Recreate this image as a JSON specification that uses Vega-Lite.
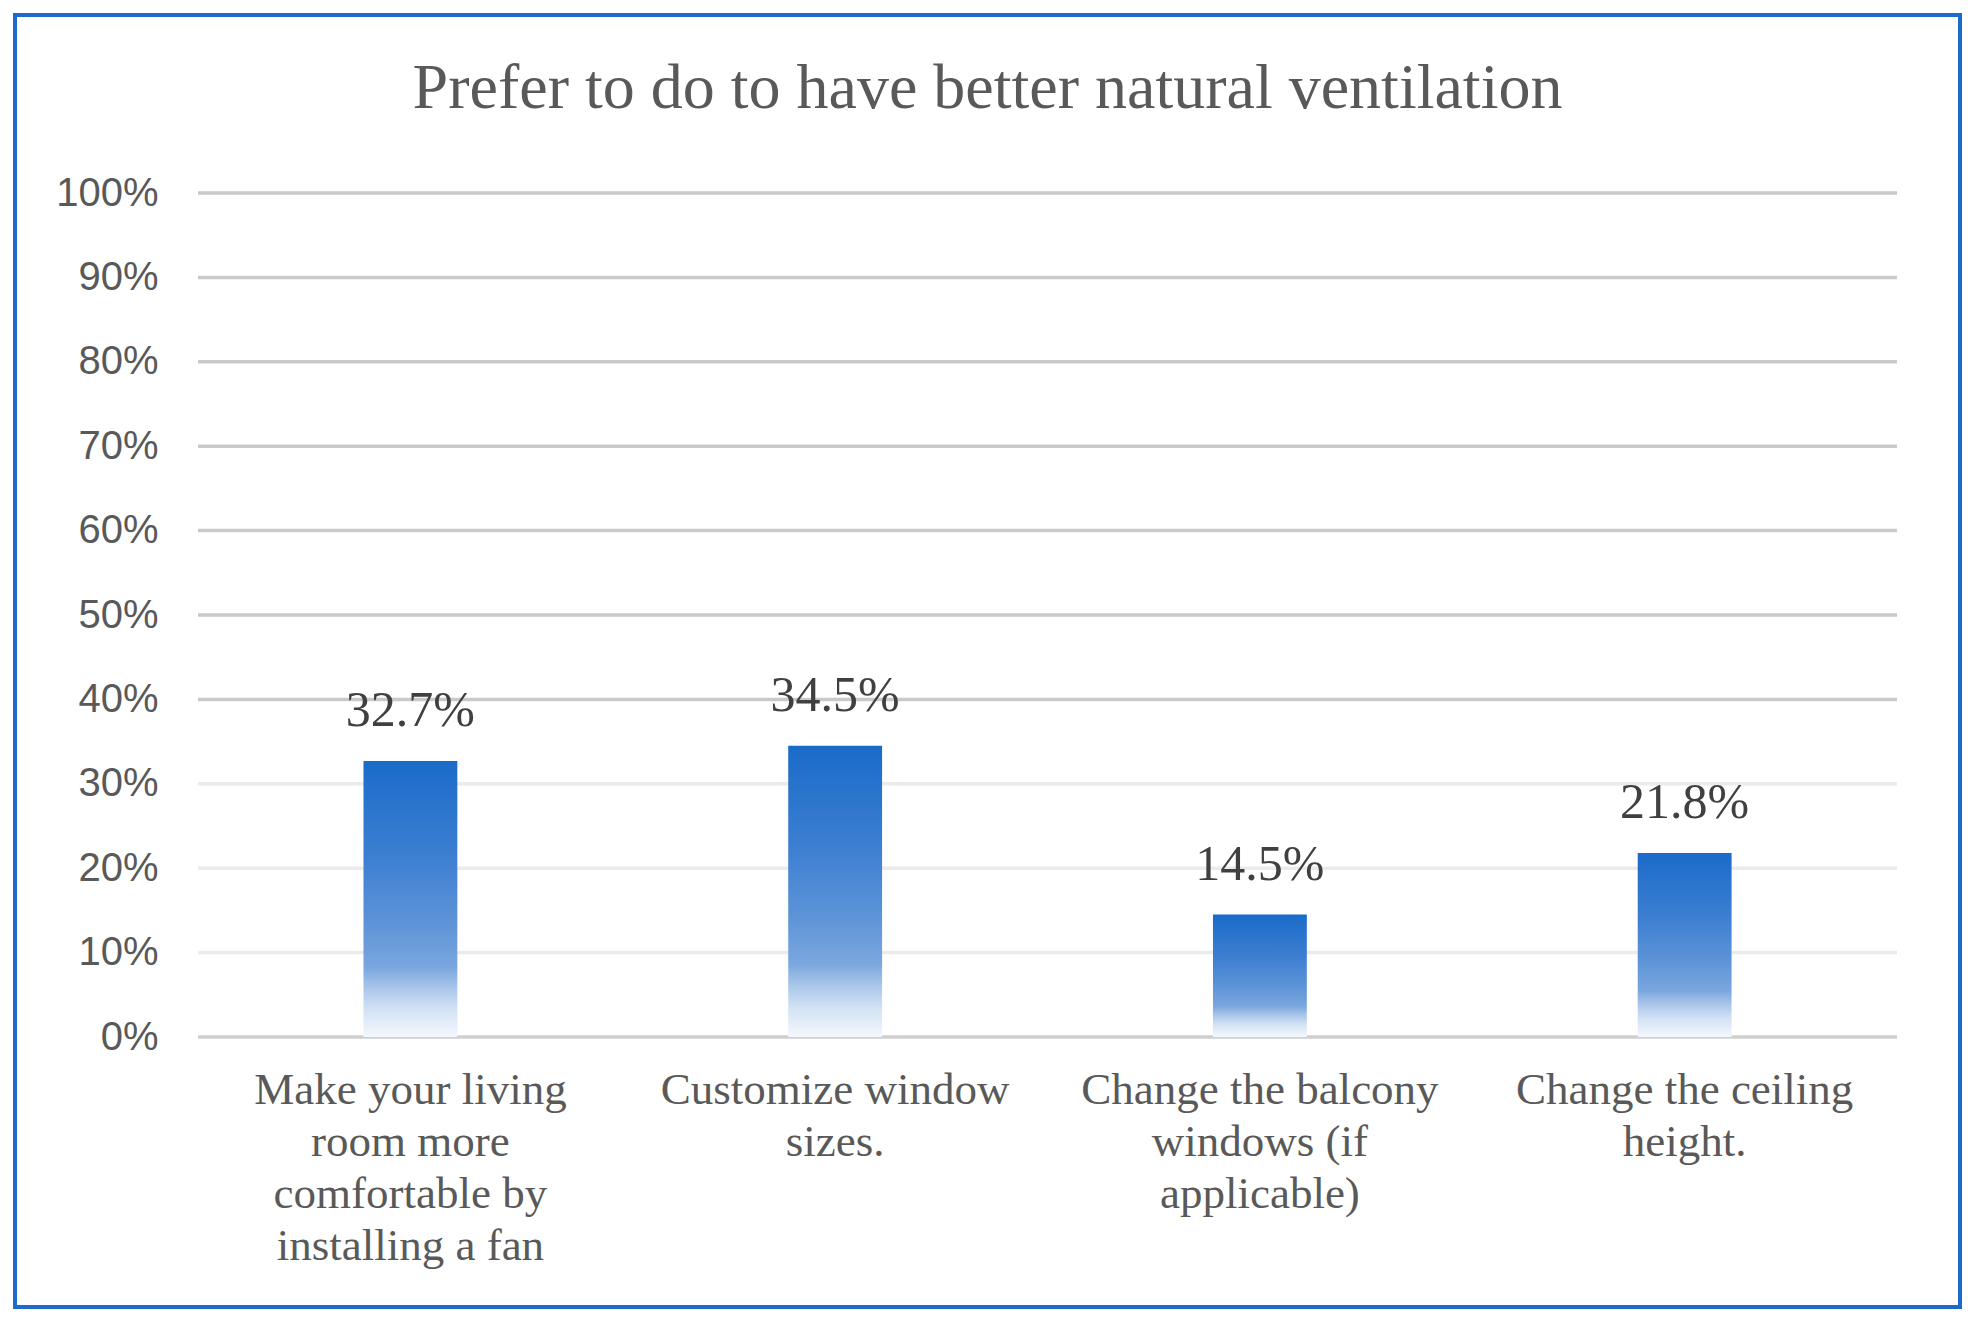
{
  "$schema": "https://vega.github.io/schema/vega-lite/v6.json",
  "width": 1945,
  "height": 1292,
  "autosize": {"type": "none"},
  "padding": {"left": 15, "top": 15, "right": 18, "bottom": 24},
  "background": "white",
  "config": {"view": {"stroke": "#1a6bcb", "strokeWidth": 4}},
  "title": {
    "text": "Prefer to do to have better natural ventilation",
    "font": "Liberation Serif",
    "fontSize": 64,
    "fontWeight": "normal",
    "color": "#595959",
    "anchor": "middle",
    "frame": "group",
    "baseline": "alphabetic",
    "offset": -157
  },
  "datasets": {
    "bars": [
      {"option": "Make your living room more comfortable by installing a fan", "value": 0.327},
      {"option": "Customize window sizes.", "value": 0.345},
      {"option": "Change the balcony windows (if applicable)", "value": 0.145},
      {"option": "Change the ceiling height.", "value": 0.218}
    ],
    "grid": [
      {"value": 0}, {"value": 0.1}, {"value": 0.2}, {"value": 0.3}, {"value": 0.4}, {"value": 0.5},
      {"value": 0.6}, {"value": 0.7}, {"value": 0.8}, {"value": 0.9}, {"value": 1}
    ]
  },
  "encoding": {
    "x": {
      "field": "option",
      "type": "nominal",
      "sort": null,
      "scale": {
        "domain": [
          "Make your living room more comfortable by installing a fan",
          "Customize window sizes.",
          "Change the balcony windows (if applicable)",
          "Change the ceiling height."
        ],
        "paddingInner": 0,
        "paddingOuter": 0.2896,
        "align": 0.744
      },
      "axis": {
        "orient": "bottom",
        "offset": -270,
        "title": null,
        "domain": false,
        "ticks": false,
        "labelAngle": 0,
        "labelLimit": 1000,
        "labelOverlap": false,
        "labelFont": "Liberation Serif",
        "labelFontSize": 45,
        "labelColor": "#595959",
        "labelLineHeight": 52,
        "labelBaseline": "top",
        "labelPadding": 30,
        "labelExpr": "datum.label == 'Make your living room more comfortable by installing a fan' ? ['Make your living', 'room more', 'comfortable by', 'installing a fan'] : datum.label == 'Customize window sizes.' ? ['Customize window', 'sizes.'] : datum.label == 'Change the balcony windows (if applicable)' ? ['Change the balcony', 'windows (if', 'applicable)'] : ['Change the ceiling', 'height.']"
      }
    },
    "y": {
      "field": "value",
      "type": "quantitative",
      "scale": {"domain": [-0.3199, 1.2109], "nice": false, "zero": false},
      "axis": {
        "orient": "left",
        "offset": -183,
        "values": [0, 0.1, 0.2, 0.3, 0.4, 0.5, 0.6, 0.7, 0.8, 0.9, 1],
        "format": ".0%",
        "domain": false,
        "ticks": false,
        "grid": false,
        "title": null,
        "labelFont": "Liberation Sans",
        "labelFontSize": 40,
        "labelColor": "#595959",
        "labelPadding": 40,
        "labelBaseline": "middle"
      }
    }
  },
  "layer": [
    {
      "data": {"name": "grid"},
      "mark": {"type": "rule", "strokeWidth": 3.5},
      "encoding": {
        "x": {
          "datum": "Make your living room more comfortable by installing a fan",
          "type": "nominal",
          "bandPosition": 0
        },
        "x2": {"datum": "Change the ceiling height.", "bandPosition": 1},
        "color": {
          "condition": [
            {"test": "datum.value == 0", "value": "#cfcfcf"},
            {"test": "datum.value < 0.35", "value": "#ebebeb"}
          ],
          "value": "#c9c9c9"
        }
      }
    },
    {
      "data": {"name": "bars"},
      "mark": {
        "type": "bar",
        "width": {"band": 0.221},
        "fill": {
          "gradient": "linear",
          "x1": 0, "y1": 0, "x2": 0, "y2": 1,
          "stops": [
            {"offset": 0, "color": "#1a6bc9"},
            {"offset": 0.35, "color": "#3d7fd1"},
            {"offset": 0.6, "color": "#5f95d8"},
            {"offset": 0.75, "color": "#7ba7de"},
            {"offset": 0.82, "color": "#a8c5ea"},
            {"offset": 0.9, "color": "#d3e2f4"},
            {"offset": 1, "color": "#f4f8fd"}
          ]
        }
      },
      "encoding": {
        "y2": {"datum": 0}
      }
    },
    {
      "data": {"name": "bars"},
      "mark": {
        "type": "text",
        "baseline": "alphabetic",
        "align": "center",
        "dy": -35,
        "font": "Liberation Serif",
        "fontSize": 50,
        "color": "#404040"
      },
      "encoding": {
        "text": {"field": "value", "type": "quantitative", "format": ".1%"}
      }
    }
  ]
}
